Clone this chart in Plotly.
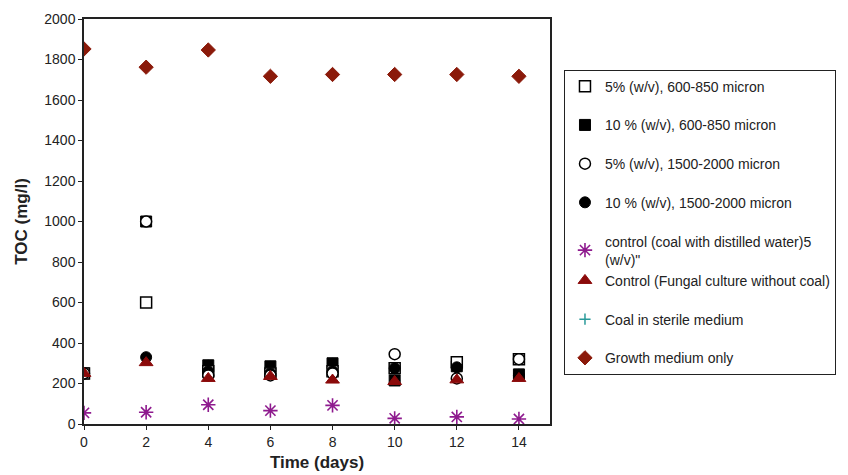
import plotly.graph_objects as go

days = [0, 2, 4, 6, 8, 10, 12, 14]

sq_open_5 = [250, 600, 260, 250, 260, 275, 305, 320]        # 5% (w/v), 600-850 micron
sq_fill_10 = [250, 1000, 290, 285, 300, 215, 285, 245]      # 10 % (w/v), 600-850 micron
circ_open_5 = [250, 1000, 240, 240, 250, 345, 225, 320]     # 5% (w/v), 1500-2000 micron
circ_fill_10 = [250, 330, 260, 250, 260, 275, 280, 240]     # 10 % (w/v), 1500-2000 micron
ctrl_water = [55, 58, 95, 66, 92, 28, 35, 25]               # control (coal with distilled water)
ctrl_fungal = [250, 303, 225, 235, 217, 210, 218, 225]      # Control (Fungal culture without coal)
coal_sterile = [250, 1000, 290, 285, 300, 215, 285, 245]    # Coal in sterile medium (hidden)
growth_only = [1852, 1762, 1847, 1717, 1726, 1726, 1726, 1717]

names = [
    "5% (w/v), 600-850 micron",
    "10 % (w/v), 600-850 micron",
    "5% (w/v), 1500-2000 micron",
    "10 % (w/v), 1500-2000 micron",
    "control (coal with distilled water)5<br>(w/v)\"",
    "Control (Fungal culture without coal)",
    "Coal in sterile medium",
    "Growth medium only",
]

fig = go.Figure()

def add(y, name, rank, symbol, color, fill, size, lw=1.5, group=None):
    fig.add_trace(go.Scatter(
        x=days, y=y, mode="markers", name=name, legendrank=rank,
        legendgroup=group or name,
        marker=dict(symbol=symbol, size=size, color=fill,
                    line=dict(color=color, width=lw)),
    ))

# drawing order (bottom to top); legend ordered by rank
add(coal_sterile, names[6], 7, "cross-thin", "#2a9a9a", "#2a9a9a", 8, 1.5)
add(sq_fill_10, names[1], 2, "square", "black", "black", 11, 1)
add(sq_open_5, names[0], 1, "square", "black", "white", 11, 1.5)
add(circ_fill_10, names[3], 4, "circle", "black", "black", 11, 1)
add(circ_open_5, names[2], 3, "circle", "black", "white", 11, 1.5)
add(ctrl_water, names[4], 5, "asterisk", "#8e1a8e", "#8e1a8e", 12, 1.6, group="g5")
add(ctrl_fungal, names[5], 6, "triangle-up", "#8b0a0a", "#8b0a0a", 12, 1, group="g5")
add(growth_only, names[7], 8, "diamond", "#8b1a0a", "#8b1a0a", 11, 1)

fig.update_layout(
    width=848, height=475,
    margin=dict(l=84, r=295, t=19, b=51),
    paper_bgcolor="white", plot_bgcolor="white",
    font=dict(family="Liberation Sans, Arial, sans-serif", size=14, color="#222"),
    showlegend=True,
    legend=dict(
        x=1.03, y=0.875, xanchor="left", yanchor="top",
        bordercolor="#222", borderwidth=1, bgcolor="white",
        font=dict(size=14, color="#222"),
        tracegroupgap=17.5, itemwidth=30,
    ),
    xaxis=dict(
        range=[0, 15], tickvals=days, showgrid=False, zeroline=False,
        showline=True, linecolor="#222", linewidth=1.5, mirror=True,
        ticks="outside", ticklen=4, tickcolor="#222", automargin=False,
        title=dict(text="<b>Time (days)</b>", font=dict(size=17), standoff=8),
    ),
    yaxis=dict(
        range=[0, 2000], dtick=200, showgrid=False, zeroline=False,
        showline=True, linecolor="#222", linewidth=1.5, mirror=True,
        ticks="outside", ticklen=4, tickcolor="#222", automargin=False,
        title=dict(text="<b>TOC (mg/l)</b>", font=dict(size=17), standoff=12),
    ),
)

fig.write_html("out.html")
